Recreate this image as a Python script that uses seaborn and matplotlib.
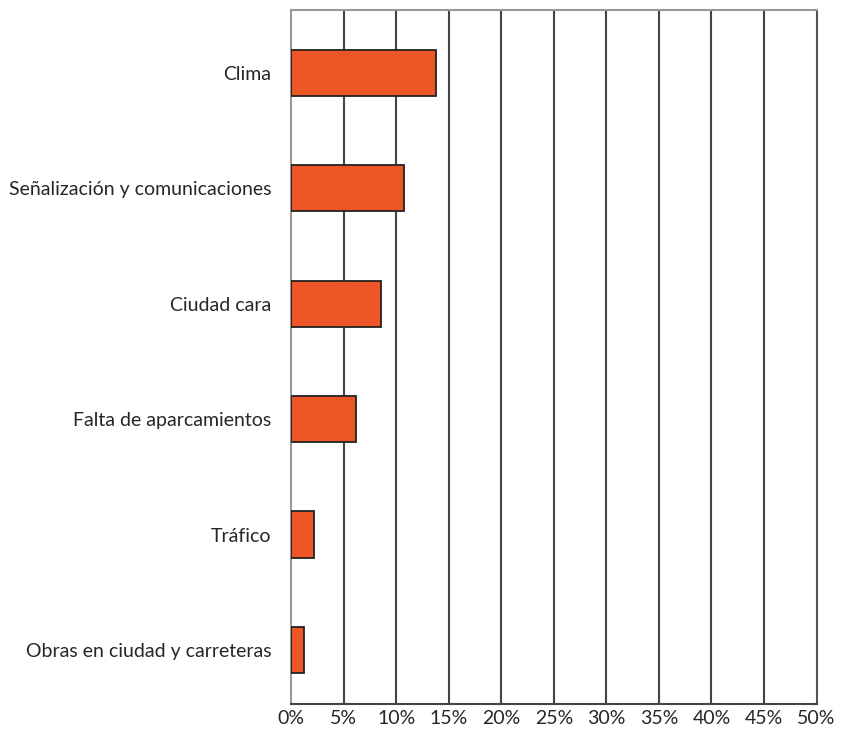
import matplotlib
matplotlib.use("Agg")
import matplotlib.pyplot as plt
import seaborn as sns
import pandas as pd

# Data
categorias = ["Clima", "Señalización y comunicaciones", "Ciudad cara",
              "Falta de aparcamientos", "Tráfico", "Obras en ciudad y carreteras"]
valores = [13.8, 10.75, 8.55, 6.2, 2.15, 1.25]
ticks = list(range(0, 55, 5))
tick_labels = [f"{t}%" for t in ticks]

df = pd.DataFrame({"categoria": categorias, "valor": valores})

sns.set_style("white")
plt.rcParams["font.family"] = ["Lato", "DejaVu Sans"]

fig = plt.figure(figsize=(8.48, 7.34), dpi=100)
ax = fig.add_axes([0.3432, 0.0409, 0.6197, 0.9455])

sns.barplot(data=df, x="valor", y="categoria", orient="h", color="#EE5527",
            width=0.4, edgecolor="#222222", linewidth=1.3, saturation=1, ax=ax, zorder=3)

ax.set_xlim(0, 50)
ax.set_ylim(5.468, -0.546)
ax.set_xticks(ticks)
ax.set_xticklabels(tick_labels, fontsize=14)
ax.tick_params(axis="y", labelsize=14, length=0, pad=14)
ax.tick_params(axis="x", length=2.5, width=1.3, color="#444444", pad=1.5)
ax.set_xlabel("")
ax.set_ylabel("")

for t in ticks[1:-1]:
    ax.axvline(t, color="#444444", linewidth=1.5, zorder=1)

ax.spines["left"].set_color("#999999")
ax.spines["top"].set_color("#999999")
ax.spines["right"].set_color("#555555")
ax.spines["bottom"].set_color("#444444")
for s in ax.spines.values():
    s.set_linewidth(1.5)

plt.savefig("out.png", dpi=100)
